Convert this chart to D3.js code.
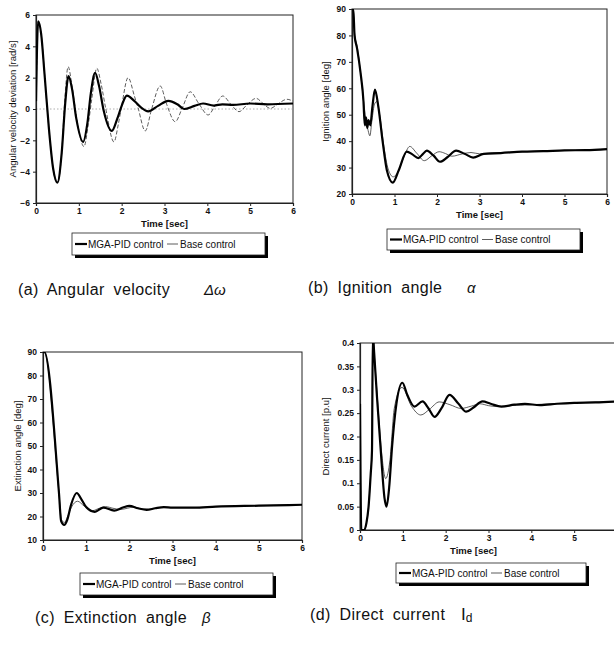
<!DOCTYPE html>
<html>
<head>
<meta charset="utf-8">
<script src="https://cdn.jsdelivr.net/npm/d3@7/dist/d3.min.js"></script>
<style>
html,body{margin:0;padding:0;background:#fff;}
svg{display:block;}
text{font-family:"Liberation Sans",Arial,sans-serif;fill:#111;}
</style>
</head>
<body>
<svg id="chart" width="614" height="658"></svg>
<script>
// ---------------- DATA ----------------
const xTicks = [0, 1, 2, 3, 4, 5, 6];
const xTicksD = [0, 1, 2, 3, 4, 5];
const legendLabels = ["MGA-PID control", "Base control"];
const xTitle = "Time [sec]";

// (a) Angular velocity deviation [rad/s]
const aTicksY = [-6, -4, -2, 0, 2, 4, 6];
const aMgaT = [0, 0.05, 0.12, 0.2, 0.3, 0.4, 0.5, 0.6, 0.68, 0.76, 0.84, 0.94, 1.1, 1.2, 1.28, 1.38, 1.47, 1.58, 1.77, 1.9, 2.0, 2.12, 2.3, 2.45, 2.62, 2.85, 3.09, 3.3, 3.46, 3.7, 3.9, 4.15, 4.35, 4.6, 5.0, 5.4, 6.0];
const aMgaV = [0.5, 5.6, 4.8, 2.2, -1.2, -3.8, -4.7, -2.8, 0.3, 2.1, 1.3, -0.6, -2.1, -0.9, 1.0, 2.3, 1.5, -0.1, -1.4, -0.6, 0.2, 0.85, 0.5, 0.1, -0.15, 0.2, 0.52, 0.3, 0.0, 0.2, 0.35, 0.22, 0.3, 0.26, 0.35, 0.3, 0.35];
const aBaseT = [0, 0.05, 0.12, 0.2, 0.3, 0.4, 0.5, 0.6, 0.67, 0.75, 0.84, 0.95, 1.12, 1.22, 1.3, 1.42, 1.52, 1.63, 1.82, 1.92, 2.0, 2.15, 2.3, 2.38, 2.55, 2.7, 2.9, 3.05, 3.25, 3.42, 3.6, 3.8, 4.02, 4.18, 4.36, 4.55, 4.74, 4.92, 5.14, 5.3, 5.47, 5.65, 5.86, 6.0];
const aBaseV = [0.5, 5.6, 4.8, 2.2, -1.2, -3.8, -4.7, -2.8, 0.5, 2.7, 1.5, -0.6, -2.4, -1.0, 0.6, 2.6, 1.6, 0.0, -2.1, -1.0, 0.2, 2.0, 0.8, 0.1, -1.4, 0.0, 1.47, 0.3, -0.81, 0.1, 1.1, 0.35, -0.38, 0.2, 0.83, 0.3, -0.17, 0.25, 0.68, 0.35, 0.04, 0.33, 0.62, 0.5];

// (b) Ignition angle [deg]
const bTicksY = [20, 30, 40, 50, 60, 70, 80, 90];
const bMgaT = [0, 0.03, 0.06, 0.12, 0.2, 0.27, 0.3, 0.33, 0.36, 0.39, 0.43, 0.48, 0.54, 0.62, 0.72, 0.82, 0.96, 1.1, 1.29, 1.42, 1.56, 1.66, 1.76, 1.92, 2.07, 2.25, 2.45, 2.65, 2.85, 3.1, 3.5, 4.0, 4.5, 5.0, 5.5, 6.0];
const bMgaV = [90, 90, 80, 75, 66, 55, 46, 49, 45, 48, 46, 53, 59.5, 53, 40, 29, 24.3, 29, 36, 35, 33.6, 35, 36.4, 34.5, 32.2, 34, 36.4, 35.2, 33.8, 35.2, 35.5, 36, 36.2, 36.5, 36.6, 37];
const bBaseT = [0, 0.03, 0.06, 0.12, 0.2, 0.28, 0.34, 0.38, 0.42, 0.47, 0.53, 0.58, 0.65, 0.75, 0.85, 0.97, 1.1, 1.22, 1.36, 1.52, 1.7, 1.88, 2.05, 2.2, 2.35, 2.6, 2.8, 3.0, 3.3, 3.6, 4.0, 5.0, 6.0];
const bBaseV = [90, 90, 81, 76, 66, 54, 47, 44, 42, 48, 54, 55, 50, 38, 29.5, 26.5, 29, 34, 38, 35.5, 32.6, 34.5, 36, 35.3, 34.3, 35.2, 35.7, 35.2, 35.6, 35.7, 36, 36.5, 37];

// (c) Extinction angle [deg]
const cTicksY = [10, 20, 30, 40, 50, 60, 70, 80, 90];
const cMgaT = [0, 0.03, 0.37, 0.42, 0.49, 0.56, 0.65, 0.78, 0.9, 1.0, 1.2, 1.4, 1.65, 1.85, 2.0, 2.2, 2.4, 2.6, 2.8, 3.0, 3.5, 4.0, 5.0, 6.0];
const cMgaV = [90, 90, 30, 18, 16.4, 18.5, 25, 30, 27, 24, 22, 23.8, 22.5, 23.8, 24.5, 23.5, 22.8, 23.5, 24, 23.8, 23.8, 24.2, 24.6, 25];
const cBaseT = [0, 0.03, 0.37, 0.43, 0.5, 0.57, 0.66, 0.8, 0.95, 1.15, 1.3, 1.45, 1.62, 1.8, 1.95, 2.1, 2.3, 2.5, 2.7, 3.0, 3.5, 4.0, 5.0, 6.0];
const cBaseV = [90, 90, 30, 18.5, 17.5, 20, 24, 26.5, 24.5, 22.5, 23.5, 24.2, 23.5, 23, 23.5, 24, 23.2, 23.2, 23.8, 23.8, 23.8, 24.2, 24.6, 25];

// (d) Direct current [p.u]
const dTicksY = [0, 0.05, 0.1, 0.15, 0.2, 0.25, 0.3, 0.35, 0.4];
const dMgaT = [0, 0.03, 0.1, 0.15, 0.2, 0.25, 0.28, 0.3, 0.33, 0.4, 0.5, 0.57, 0.62, 0.68, 0.75, 0.85, 0.99, 1.1, 1.27, 1.46, 1.6, 1.74, 1.9, 2.09, 2.3, 2.48, 2.65, 2.86, 3.05, 3.3, 3.6, 3.85, 4.2, 4.6, 5.0, 5.5, 6.0];
const dMgaV = [0.27, 0, 0, 0.015, 0.05, 0.12, 0.17, 0.42, 0.38, 0.28, 0.15, 0.07, 0.05, 0.09, 0.18, 0.27, 0.315, 0.29, 0.264, 0.275, 0.26, 0.242, 0.26, 0.289, 0.27, 0.253, 0.262, 0.275, 0.27, 0.264, 0.268, 0.27, 0.267, 0.27, 0.272, 0.273, 0.275];
const dBaseT = [0, 0.03, 0.1, 0.15, 0.2, 0.25, 0.28, 0.3, 0.33, 0.4, 0.5, 0.6, 0.7, 0.8, 0.98, 1.2, 1.42, 1.62, 1.85, 2.1, 2.36, 2.6, 2.8, 3.0, 3.2, 3.5, 4.0, 5.0, 6.0];
const dBaseV = [0.27, 0, 0, 0.015, 0.05, 0.12, 0.17, 0.42, 0.38, 0.29, 0.17, 0.11, 0.15, 0.26, 0.305, 0.265, 0.246, 0.258, 0.274, 0.268, 0.26, 0.265, 0.27, 0.266, 0.264, 0.266, 0.268, 0.272, 0.275];

// ---------------- DRAWING ----------------
const svg = d3.select("#chart");
svg.append("rect").attr("width", 614).attr("height", 658).attr("fill", "#fff");

const zip = (t, v) => t.map((d, i) => [d, v[i]]);

function panel(cfg, idx) {
  const g = svg.append("g");
  const x = d3.scaleLinear().domain([0, 6]).range([cfg.x0, cfg.x1]);
  const y = d3.scaleLinear().domain(cfg.yDomain).range([cfg.y1, cfg.y0]);

  g.append("rect").attr("x", cfg.x0).attr("y", cfg.y0)
    .attr("width", cfg.x1 - cfg.x0).attr("height", cfg.y1 - cfg.y0)
    .attr("fill", "none").attr("stroke", "#222").attr("stroke-width", 1);

  if (cfg.zero) {
    g.append("line").attr("x1", cfg.x0).attr("x2", cfg.x1)
      .attr("y1", y(0)).attr("y2", y(0))
      .attr("stroke", "#999").attr("stroke-width", 0.8).attr("stroke-dasharray", "1.5,2");
  }

  const xAxis = d3.axisBottom(x).tickValues(cfg.ticksX).tickSize(3).tickFormat(d3.format("d"));
  const gx = g.append("g").attr("transform", `translate(0,${cfg.y1})`).call(xAxis);
  const yAxis = d3.axisLeft(y).tickValues(cfg.ticksY).tickSize(3).tickFormat(cfg.fmt);
  const gy = g.append("g").attr("transform", `translate(${cfg.x0},0)`).call(yAxis);
  [gx, gy].forEach(a => {
    a.select(".domain").attr("stroke", "#222").attr("stroke-width", 1.2);
    a.selectAll(".tick line").attr("stroke", "#222");
    a.selectAll("text").attr("font-size", 8.5).attr("font-family", "Liberation Sans, Arial, sans-serif").attr("fill", "#111").attr("font-weight", "bold");
  });
  gx.selectAll("text").attr("y", 5);

  const clipId = "clip" + idx;
  svg.append("clipPath").attr("id", clipId).append("rect")
    .attr("x", cfg.x0).attr("y", cfg.y0).attr("width", cfg.x1 - cfg.x0).attr("height", cfg.y1 - cfg.y0);

  const line = d3.line().x(d => x(d[0])).y(d => y(d[1])).curve(d3.curveMonotoneX);
  const lg = g.append("g").attr("clip-path", `url(#${clipId})`);
  lg.append("path").datum(zip(cfg.baseT, cfg.baseV)).attr("d", line)
    .attr("fill", "none").attr("stroke", "#333").attr("stroke-width", 0.8)
    .attr("stroke-dasharray", cfg.dash ? "4,2" : null);
  lg.append("path").datum(zip(cfg.mgaT, cfg.mgaV)).attr("d", line)
    .attr("fill", "none").attr("stroke", "#000").attr("stroke-width", 2.2)
    .attr("stroke-linejoin", "round");

  g.append("text").attr("x", (cfg.x0 + cfg.x1) / 2 + (cfg.xtDx || 0)).attr("y", cfg.y1 + 24)
    .attr("text-anchor", "middle").attr("font-size", 9.5).attr("font-weight", "bold").text(xTitle);
  g.append("text").attr("transform", `translate(${cfg.ytX},${(cfg.y0 + cfg.y1) / 2}) rotate(-90)`)
    .attr("text-anchor", "middle").attr("font-size", 9.5).text(cfg.yTitle);

  const L = cfg.legend;
  const lgd = g.append("g");
  lgd.append("line").attr("x1", L.x + L.w + 1.5).attr("x2", L.x + L.w + 1.5)
    .attr("y1", L.y + 3).attr("y2", L.y + L.h + 3).attr("stroke", "#000").attr("stroke-width", 3);
  lgd.append("line").attr("x1", L.x + 3).attr("x2", L.x + L.w + 3)
    .attr("y1", L.y + L.h + 1.5).attr("y2", L.y + L.h + 1.5).attr("stroke", "#000").attr("stroke-width", 3);
  lgd.append("rect").attr("x", L.x).attr("y", L.y).attr("width", L.w).attr("height", L.h)
    .attr("fill", "#fff").attr("stroke", "#222").attr("stroke-width", 0.8);
  const ly = L.y + L.h / 2;
  lgd.append("line").attr("x1", L.x + 3).attr("x2", L.x + 15).attr("y1", ly).attr("y2", ly)
    .attr("stroke", "#000").attr("stroke-width", 2.2);
  lgd.append("text").attr("x", L.x + 16).attr("y", ly + 3.5).attr("font-size", 10).text(legendLabels[0]);
  lgd.append("line").attr("x1", L.x + 95).attr("x2", L.x + 106).attr("y1", ly).attr("y2", ly)
    .attr("stroke", "#333").attr("stroke-width", 0.8);
  lgd.append("text").attr("x", L.x + 108).attr("y", ly + 3.5).attr("font-size", 10).text(legendLabels[1]);
}

const fmtInt = d3.format("d");
const fmtD = d => (d === 0 ? "0" : String(+d.toFixed(2)));

panel({x0: 36, x1: 293, y0: 15, y1: 203, yDomain: [-6, 6], ticksY: aTicksY, ticksX: xTicks, fmt: fmtInt,
  mgaT: aMgaT, mgaV: aMgaV, baseT: aBaseT, baseV: aBaseV, dash: true, zero: true,
  ytX: 16, yTitle: "Angular velocity deviation [rad/s]",
  legend: {x: 72, y: 233, w: 193, h: 22}}, 0);

panel({x0: 352, x1: 607, y0: 9, y1: 194, yDomain: [20, 90], ticksY: bTicksY, ticksX: xTicks, fmt: fmtInt,
  mgaT: bMgaT, mgaV: bMgaV, baseT: bBaseT, baseV: bBaseV, dash: false,
  ytX: 329, yTitle: "Ignition angle [deg]",
  legend: {x: 387, y: 229, w: 193, h: 21}}, 1);

panel({x0: 43, x1: 302, y0: 352, y1: 540, yDomain: [10, 90], ticksY: cTicksY, ticksX: xTicks, fmt: fmtInt,
  mgaT: cMgaT, mgaV: cMgaV, baseT: cBaseT, baseV: cBaseV, dash: false,
  ytX: 21, yTitle: "Extinction angle [deg]",
  legend: {x: 80, y: 573, w: 193, h: 22}}, 2);

panel({x0: 360, x1: 617, y0: 343, y1: 530, yDomain: [0, 0.4], ticksY: dTicksY, ticksX: xTicksD, fmt: fmtD,
  mgaT: dMgaT, mgaV: dMgaV, baseT: dBaseT, baseV: dBaseV, dash: false,
  xtDx: -15, ytX: 329, yTitle: "Direct current [p.u]",
  legend: {x: 396, y: 563, w: 190, h: 20}}, 3);

function caption(xp, yp, label, sym, symX, serif) {
  svg.append("text").attr("x", xp).attr("y", yp).attr("font-size", 16)
    .attr("word-spacing", 4).attr("letter-spacing", 0.4).text(label);
  const s = svg.append("text").attr("x", symX).attr("y", yp).attr("font-size", 17);
  if (serif) {
    s.attr("font-family", "Liberation Serif, serif");
    s.append("tspan").text(sym[0]);
    s.append("tspan").attr("font-size", 12).attr("dy", 2).text(sym[1]);
  } else {
    s.attr("font-family", "DejaVu Serif, serif").attr("font-style", "italic").attr("font-size", 15).text(sym);
  }
}
caption(18, 295, "(a) Angular velocity", "Δω", 204, false);
caption(308, 293, "(b) Ignition angle", "α", 467, false);
caption(35, 623, "(c) Extinction angle", "β", 202, false);
caption(310, 620, "(d) Direct current", ["I", "d"], 461, true);
</script>
</body>
</html>
